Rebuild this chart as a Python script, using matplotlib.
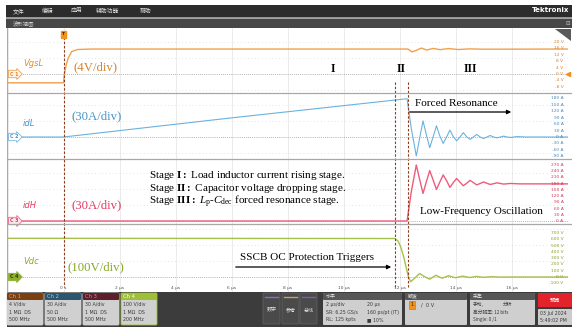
import matplotlib
matplotlib.use("Agg")
import matplotlib.pyplot as plt
from matplotlib.patches import FancyBboxPatch, Polygon
from matplotlib.transforms import blended_transform_factory

plt.rcParams["mathtext.fontset"] = "custom"
plt.rcParams["mathtext.rm"] = "Liberation Serif"
plt.rcParams["mathtext.it"] = "Liberation Serif:italic"
plt.rcParams["mathtext.bf"] = "Liberation Serif:bold"

W, H = 572, 327
SERIF = "Liberation Serif"
CJK = ["Noto Sans CJK SC", "DejaVu Sans"]

# ---- values (time in us) ----
time_ticks = [0, 2, 4, 6, 8, 10, 12, 14, 16]
time_tick_labels = ["0 s", "2 µs", "4 µs", "6 µs", "8 µs", "10 µs", "12 µs", "14 µs", "16 µs"]
stage_edges = [0, 11.85, 12.3]

vgs_t = [-2, 0, 0.03, 0.1, 0.17, 0.29, 0.5, 1.0, 12.3, 12.45, 12.6, 12.78, 12.98,
         13.2, 13.45, 13.75, 14.1, 14.5, 15.0, 18]
vgs_v = [-5.5, -5.5, 0, 6, 10, 14, 15.3, 15.6, 15.6, 13.8, 14.8, 16.2, 15.0,
         16.0, 15.2, 15.9, 15.3, 15.7, 15.5, 15.6]

idl_t = [-2, 0, 6, 12.27, 12.42, 12.6, 12.72, 12.84, 12.96, 13.08, 13.2, 13.32, 13.44,
         13.56, 13.68, 13.8, 13.92, 14.04, 14.16, 14.28, 14.4, 14.52, 14.64, 14.76,
         14.88, 15.0, 15.12, 15.24, 15.36, 15.48, 15.6, 15.72, 15.84, 15.96, 16.2, 16.5, 18]
idl_a = [0, 0, 89, 178, 40, -88, -5, 75, 10, -50, 0, 52, 5,
         -30, 0, 32, 2, -18, 0, 20, 1, -11, 0, 12,
         0, -7, 0, 7, 0, -4, 0, 4, 0, -2, 2, 0, 0]

idh_t = [-2, 12.27, 12.42, 12.6, 12.72, 12.84, 12.96, 13.08, 13.2, 13.32, 13.44, 13.56,
         13.68, 13.8, 13.92, 14.04, 14.16, 14.28, 14.4, 14.52, 14.76, 15.0, 15.24,
         15.48, 15.72, 15.96, 16.3, 18]
idh_a = [0, 0, 140, 270, 200, 133, 190, 243, 198, 152, 188, 222,
         195, 162, 185, 205, 187, 170, 182, 196, 174, 188, 176,
         184, 178, 181, 179, 179]

vdc_t = [-2, 11.84, 11.95, 12.05, 12.15, 12.25, 12.32, 12.4, 12.55, 12.72, 12.9, 13.08,
         13.3, 13.52, 13.75, 14.0, 14.25, 14.5, 14.75, 15.0, 15.3, 15.6, 16.0, 18]
vdc_v = [615, 612, 570, 470, 320, 130, 0, -75, -15, 55, 5, -35,
         28, -20, 20, -12, 14, -8, 9, -5, 5, -2, 0, 0]

vgs_ticks = [20, 16, 12, 8, 4, 0, -4, -8]
idl_ticks = [180, 150, 120, 90, 60, 30, 0, -30, -60, -90]
idh_ticks = [270, 240, 210, 180, 150, 120, 90, 60, 30, 0]
vdc_ticks = [700, 600, 500, 400, 300, 200, 100, 0, -100]

fig = plt.figure(figsize=(W / 100, H / 100), dpi=100, facecolor="white")


def px_axes(x0, y0, x1, y1):
    return fig.add_axes([x0 / W, 1 - y1 / H, (x1 - x0) / W, (y1 - y0) / H])


X0, X1 = 7.5, 567.5

# panel: pixel span, zero line pixel, pixels per unit
panels = [
    dict(y0=28, y1=93, zero=74, scale=1.6, t=vgs_t, v=vgs_v, ticks=vgs_ticks, unit="V",
         line="#f2a04a", lab="#d9842c", tag="C 1", tag_fc="#fff4e8", tag_ec="#f0a050", lw=1.0),
    dict(y0=93, y1=159, zero=137, scale=0.215, t=idl_t, v=idl_a, ticks=idl_ticks, unit="A",
         line="#6ab2de", lab="#4a8ab8", tag="C 2", tag_fc="#ffffff", tag_ec="#7ab8e0", lw=0.8),
    dict(y0=159, y1=224, zero=221, scale=0.2074, t=idh_t, v=idh_a, ticks=idh_ticks, unit="A",
         line="#f05a7c", lab="#d03a60", tag="C 3", tag_fc="#fde8ee", tag_ec="#f06a8a", lw=1.0),
    dict(y0=224, y1=292, zero=277, scale=0.0629, t=vdc_t, v=vdc_v, ticks=vdc_ticks, unit="V",
         line="#a6c04c", lab="#86a028", tag="C 4", tag_fc="#8eae2c", tag_ec="#8eae2c", lw=1.0),
]

for p in panels:
    ax = px_axes(X0, p["y0"], X1, p["y1"])
    ax.set_xlim(-2, 18)
    ax.set_ylim((p["zero"] - p["y1"]) / p["scale"], (p["zero"] - p["y0"]) / p["scale"])
    ax.set_axis_off()
    # graticule
    for t in range(-2, 19, 2):
        ax.axvline(t, color="#e3e3e3", lw=0.5, zorder=0)
    for k in range(-8, 9):
        if k == 0:
            continue
        ax.axhline(k * 16 / p["scale"], color="#cfcfcf", lw=0.5, ls=(0, (1, 4)), zorder=0)
    ax.axhline(0, color="#9a9a9a", lw=0.6, ls=(0, (1, 1.5)), zorder=1)
    ax.plot(p["t"], p["v"], color=p["line"], lw=p["lw"], zorder=3)

    trans = blended_transform_factory(ax.transAxes, ax.transData)
    for v in p["ticks"]:
        ax.text(0.993, v, f"{v} {p['unit']}", transform=trans, ha="right", va="center",
                fontsize=3.2, color=p["lab"], zorder=4)
    tag_col = "#2a3a10" if p["tag"] == "C 4" else p["lab"]
    ax.text(0.004, 0, p["tag"], transform=trans, ha="left", va="center", fontsize=3.4,
            color=tag_col, fontweight="bold", zorder=5,
            bbox=dict(boxstyle="rarrow,pad=0.25", fc=p["tag_fc"], ec=p["tag_ec"], lw=0.6))

# time axis: stage boundaries, trigger mark, tick labels
ax_t = px_axes(X0, 28, X1, 292)
ax_t.set_xlim(-2, 18)
ax_t.set_ylim(292, 28)
ax_t.set_axis_off()
ax_t.patch.set_alpha(0)
ax_t.vlines(stage_edges[0], 37, 287, colors="#8c3c1c", lw=0.8, linestyles=(0, (2.2, 1.6)))
ax_t.vlines(stage_edges[1:], 82, 287, colors="#8c3c1c", lw=0.8, linestyles=(0, (2.2, 1.6)))
ax_t.text(stage_edges[0], 34.5, "T", ha="center", va="center", fontsize=3.2, color="#3a2000",
          fontweight="bold", bbox=dict(boxstyle="square,pad=0.25", fc="#f2921e", ec="#f2921e"))
for t, lab in zip(time_ticks, time_tick_labels):
    ax_t.text(t, 288.5, lab, ha="center", va="center", fontsize=3.2, color="#555555")

# overlay in pixel coordinates for screen chrome and annotations
ui = px_axes(0, 0, W, H)
ui.set_xlim(0, W)
ui.set_ylim(H, 0)
ui.set_axis_off()
ui.patch.set_alpha(0)


def box(x0, y0, x1, y1, fc, ec=None, lw=0, r=0.0):
    ui.add_patch(FancyBboxPatch((x0, y0), x1 - x0, y1 - y0,
                                boxstyle=f"round,pad=0,rounding_size={r}",
                                fc=fc, ec=ec or fc, lw=lw))


# top menu bars
box(6, 5, W, 17.5, "#2c2c2c")
box(6, 18.5, W, 28, "#474747")
for x, s in [(19, "文件"), (48, "编辑"), (77, "应用"), (108, "辅助功能"), (146, "帮助")]:
    ui.text(x, 11.3, s, ha="center", va="center", fontsize=4.2, color="#e6e6e6", family=CJK)
ui.text(569, 10.5, "Tektronix", ha="right", va="center", fontsize=5, color="white",
        fontweight="bold")
ui.text(13, 23.3, "波形视图", ha="left", va="center", fontsize=3.9, color="#d0d0d0", family=CJK)
ui.text(568, 23.3, "⊟", ha="center", va="center", fontsize=4, color="#bbbbbb")

# plot frame and panel dividers
ui.plot([7.2, 7.2], [28, 292], color="#9a9a9a", lw=0.6)
ui.plot([7.3, 7.3], [55, 84], color="#f2a04a", lw=0.7)
for y in [93, 159, 224]:
    ui.plot([7.2, W], [y, y], color="#a8a8a8", lw=0.9)
ui.add_patch(Polygon([(555, 28.5), (571, 28.5), (571, 41)], closed=True, fc="#5a5a5a", ec="none"))
ui.plot(568, 73.5, marker="<", ms=3, color="#f2921e")

# channel labels
ui.text(23, 63, "VgsL", fontsize=6, style="italic", color="#e8891e", va="center")
ui.text(74, 67, "(4V/div)", fontsize=9.2, family=SERIF, color="#d9842c", va="center")
ui.text(23, 124, "idL", fontsize=6, style="italic", color="#4a94c8", va="center")
ui.text(71, 116, "(30A/div)", fontsize=9.2, family=SERIF, color="#4a94c8", va="center")
ui.text(23, 205, "idH", fontsize=6, style="italic", color="#e53c64", va="center")
ui.text(71, 205, "(30A/div)", fontsize=9.2, family=SERIF, color="#e53c64", va="center")
ui.text(23, 262, "Vdc", fontsize=6, style="italic", color="#8aa828", va="center")
ui.text(67, 267, "(100V/div)", fontsize=9.2, family=SERIF, color="#8aa828", va="center")

# stage annotations
for x, s in [(333, "I"), (401, "II"), (470, "III")]:
    ui.text(x, 69.5, s, ha="center", va="center", fontsize=8.5, family=SERIF, fontweight="bold")
ui.text(415, 104, "Forced Resonance", fontsize=8.1, family=SERIF, va="center")
ui.annotate("", xy=(514, 112), xytext=(407, 112),
            arrowprops=dict(arrowstyle="-|>", color="black", lw=0.9, mutation_scale=6))
stage_lines = [
    r"Stage $\mathbf{I:}$ Load inductor current rising stage.",
    r"Stage $\mathbf{II:}$ Capacitor voltage dropping stage.",
    r"Stage $\mathbf{III:}$ $L_\mathrm{p}$-$C_\mathrm{dec}$ forced resonance stage.",
]
for i, s in enumerate(stage_lines):
    ui.text(149, 175 + 13.5 * i, s, fontsize=8.0, family=SERIF, va="center")
ui.text(420, 211, "Low-Frequency Oscillation", fontsize=8, family=SERIF, va="center")
ui.text(240, 258, "SSCB OC Protection Triggers", fontsize=8, family=SERIF, va="center")
ui.annotate("", xy=(394, 267), xytext=(233, 267),
            arrowprops=dict(arrowstyle="-|>", color="black", lw=0.9, mutation_scale=6))

# bottom status bar
box(7, 292, W, H, "#3c3c3c")
ch_boxes = [
    ("Ch 1", "#7b3f12", "#f2a55a", ["4 V/div", "1 MΩ  DS", "500 MHz"], 7),
    ("Ch 2", "#2b5670", "#8fcdf0", ["30 A/div", "50 Ω", "500 MHz"], 45),
    ("Ch 3", "#5e1f2c", "#f07a95", ["30 A/div", "1 MΩ  DS", "500 MHz"], 83),
    ("Ch 4", "#9dbf3a", "#ffffff", ["100 V/div", "1 MΩ  DS", "200 MHz"], 121),
]
for name, head, fg, lines, x in ch_boxes:
    box(x, 293, x + 36, 325, "#d0d0d0", ec=head if name == "Ch 4" else "#d0d0d0", lw=0.6, r=1.2)
    box(x, 293, x + 36, 300, head, r=1.0)
    ui.text(x + 2, 296.6, name, fontsize=3.8, color=fg, va="center")
    for j, s in enumerate(lines):
        ui.text(x + 2, 304.5 + 7.6 * j, s, fontsize=3.4, color="#3a3a3a", va="center")

for x, s, c in [(263, "数字", "#9a66c8"), (282, "参考", "#c8a070"), (300, "总线", "#8a55b8")]:
    box(x, 293, x + 17, 324, "#4a4a4a", ec="#666666", lw=0.5, r=1.0)
    ui.plot([x + 2, x + 15], [297, 297], color=c, lw=1.0)
    ui.text(x + 8.5, 310, s, ha="center", va="center", fontsize=3.6, color="#e0e0e0", family=CJK)

for x0, x1, s in [(323, 402, "水平"), (405, 467, "触发"), (470, 535, "采集")]:
    box(x0, 293, x1, 325, "#cfcfcf", r=1.0)
    box(x0, 293, x1, 300, "#575757", r=1.0)
    ui.text(x0 + 2.5, 296.6, s, fontsize=3.6, color="#e6e6e6", va="center", family=CJK)

hz = [("2 µs/div", "20 µs"), ("SR: 6.25 GS/s", "160 ps/pt (IT)"), ("RL: 125 kpts", "■ 10%")]
for j, (a, b) in enumerate(hz):
    ui.text(326, 304.5 + 7.6 * j, a, fontsize=3.4, color="#3a3a3a", va="center")
    ui.text(367, 304.5 + 7.6 * j, b, fontsize=3.4, color="#3a3a3a", va="center")
ui.text(412, 305, "1", ha="center", va="center", fontsize=3.6, color="#3a2000",
        bbox=dict(boxstyle="square,pad=0.35", fc="#f2921e", ec="#c07010", lw=0.4))
ui.text(421, 305, "/  0 V", fontsize=3.6, color="#3a3a3a", va="center")
acq = [("手动,", "分析"), ("高分辨率: 12 bits", ""), ("Single: 0 /1", "")]
for j, (a, b) in enumerate(acq):
    ui.text(473, 304.5 + 7.6 * j, a, fontsize=3.4, color="#3a3a3a", va="center", family=CJK)
    if b:
        ui.text(503, 304.5 + 7.6 * j, b, fontsize=3.4, color="#3a3a3a", va="center", family=CJK)

box(538, 293, W, 307, "#e3232b")
ui.text(555, 300, "预览", ha="center", va="center", fontsize=3.8, color="white", family=CJK)
box(538, 309, W, 325, "#cccccc", r=0.8)
ui.text(540, 313.5, "03 Jul 2024", fontsize=3.4, color="#3a3a3a", va="center")
ui.text(540, 320.5, "5:49:02 PM", fontsize=3.4, color="#3a3a3a", va="center")

fig.savefig("out.png", dpi=100, facecolor="white")
